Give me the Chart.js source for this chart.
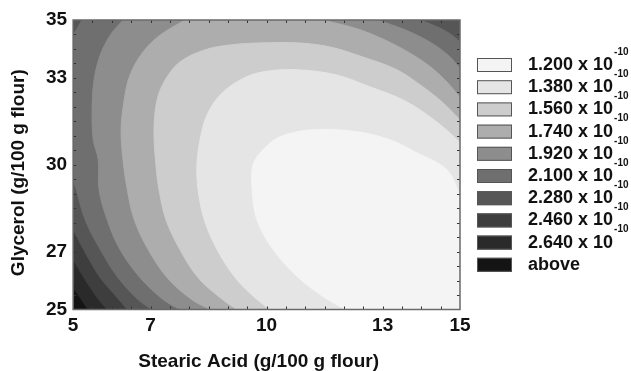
<!DOCTYPE html>
<html>
<head>
<meta charset="utf-8">
<script src="https://cdn.jsdelivr.net/npm/chart.js@4.4.1/dist/chart.umd.min.js"></script>
<style>
  html, body { margin: 0; padding: 0; background: #fff; }
</style>
</head>
<body>
<canvas id="contourChart" width="631" height="371"></canvas>
<script>
// axis ticks
const xTicks = [5, 7, 10, 13, 15];
const yTicks = [25, 27, 30, 33, 35];

// legend levels (x 10^-10), lightest first
const levelLabels = ['1.200 x 10', '1.380 x 10', '1.560 x 10', '1.740 x 10', '1.920 x 10',
    '2.100 x 10', '2.280 x 10', '2.460 x 10', '2.640 x 10', 'above'];
const levelExponents = ['-10', '-10', '-10', '-10', '-10', '-10', '-10', '-10', '-10', ''];
const levelColors = ['#f4f4f4', '#e5e5e5', '#cdcdcd', '#adadad', '#8d8d8d',
    '#6f6f6f', '#565656', '#3e3e3e', '#2a2a2a', '#141414'];

// regions below each contour level as [stearic, glycerol];
// the first/last few points of each run just past the plot edges and get clipped
const region1200 = [[15.25, 28.40], [15.00, 28.97], [14.66, 29.83], [13.89, 30.41], [13.19, 30.86], [12.34, 31.14],
    [11.20, 31.21], [10.35, 30.97], [9.91, 30.52], [9.65, 30.00], [9.63, 29.14], [9.75, 28.10], [10.17, 27.07],
    [10.79, 26.14], [11.46, 25.45], [12.03, 25.00], [12.40, 24.70], [15.60, 24.40]];
const region1380 = [[15.25, 30.40], [15.00, 30.76], [14.74, 31.10], [14.22, 31.66], [13.53, 32.24], [12.67, 32.69],
    [11.82, 33.10], [10.79, 33.28], [9.91, 33.21], [9.32, 32.93], [8.80, 32.41], [8.46, 31.72], [8.28, 30.86],
    [8.20, 30.00], [8.23, 29.14], [8.39, 28.10], [8.72, 27.07], [9.19, 26.10], [9.70, 25.41], [10.09, 25.00],
    [10.40, 24.70], [15.60, 24.40]];
const region1560 = [[15.25, 31.20], [15.00, 31.55], [14.56, 32.14], [14.04, 32.69], [13.37, 33.28], [12.49, 33.72],
    [11.64, 34.07], [10.79, 34.21], [9.91, 34.21], [9.06, 34.14], [8.41, 33.97], [7.76, 33.55], [7.38, 32.93],
    [7.17, 32.24], [7.09, 31.21], [7.14, 30.00], [7.22, 29.14], [7.40, 28.10], [7.76, 27.07], [8.23, 26.10],
    [8.80, 25.41], [9.24, 25.00], [9.60, 24.70], [15.60, 24.40]];
const region1740 = [[8.20, 35.25], [7.89, 35.00], [7.25, 34.48], [6.81, 33.90], [6.47, 33.10], [6.32, 32.24],
    [6.24, 31.21], [6.29, 30.17], [6.40, 29.14], [6.58, 28.10], [6.94, 27.07], [7.43, 26.10], [8.07, 25.34],
    [8.54, 25.00], [8.90, 24.70], [15.60, 24.40], [15.25, 31.95], [15.00, 32.34], [14.61, 32.93], [14.10, 33.52],
    [13.32, 34.14], [12.42, 34.66], [11.46, 35.00], [11.00, 35.17]];
const region1920 = [[6.45, 35.26], [6.29, 35.00], [5.96, 34.48], [5.70, 33.79], [5.54, 32.93], [5.49, 31.90],
    [5.52, 30.86], [5.65, 30.17], [5.67, 29.14], [5.88, 28.10], [6.21, 27.07], [6.73, 26.10], [7.33, 25.34],
    [7.76, 25.00], [8.10, 24.70], [15.60, 24.40], [15.20, 33.05], [15.00, 33.34], [14.69, 33.79], [14.22, 34.24],
    [13.58, 34.66], [12.86, 35.00], [12.40, 35.20]];
const region2100 = [[5.35, 35.27], [5.23, 35.00], [5.00, 34.48], [4.85, 34.10], [4.70, 31.90], [4.85, 29.80],
    [5.00, 29.48], [5.31, 28.10], [5.70, 27.07], [6.16, 26.10], [6.68, 25.34], [7.04, 25.00], [7.40, 24.70],
    [15.60, 24.40], [15.25, 33.95], [15.00, 34.24], [14.79, 34.48], [14.48, 34.72], [13.97, 35.00], [13.50, 35.20]];
const region2280 = [[4.60, 35.40], [4.85, 28.15], [5.00, 27.76], [5.34, 26.90], [5.70, 26.10], [6.14, 25.41],
    [6.40, 25.00], [6.65, 24.60], [15.60, 24.40], [15.60, 35.40]];
const region2460 = [[4.60, 35.40], [4.86, 27.03], [5.00, 26.72], [5.28, 26.10], [5.62, 25.41], [5.88, 25.00],
    [6.10, 24.65], [15.60, 24.40], [15.60, 35.40]];
const region2640 = [[4.60, 35.40], [4.87, 26.00], [5.00, 25.76], [5.18, 25.41], [5.39, 25.00], [5.55, 24.70],
    [15.60, 24.40], [15.60, 35.40]];
const regionAbove = [[4.5, 35.5], [4.5, 24.5], [15.5, 24.5], [15.5, 35.5]];

const regions = [region1200, region1380, region1560, region1740, region1920,
    region2100, region2280, region2460, region2640, regionAbove];

const FONT = '"Liberation Sans", Arial, sans-serif';

// frame and small edge ticks around the plot
const framePlugin = {
    id: 'frame',
    afterDatasetsDraw(chart) {
        const {ctx, chartArea: a, scales: {x, y}} = chart;
        ctx.save();
        ctx.strokeStyle = '#333';
        ctx.lineWidth = 1;
        for (let v = 5.5; v < 15; v += 0.5) {
            const px = Math.round(x.getPixelForValue(v)) + 0.5;
            ctx.beginPath();
            ctx.moveTo(px, a.top); ctx.lineTo(px, a.top + 3);
            ctx.moveTo(px, a.bottom); ctx.lineTo(px, a.bottom - 3);
            ctx.stroke();
        }
        for (let v = 25.5; v < 35; v += 0.5) {
            const py = Math.round(y.getPixelForValue(v)) + 0.5;
            ctx.beginPath();
            ctx.moveTo(a.left, py); ctx.lineTo(a.left + 3, py);
            ctx.moveTo(a.right, py); ctx.lineTo(a.right - 3, py);
            ctx.stroke();
        }
        ctx.strokeStyle = '#6a6a6a';
        ctx.lineWidth = 1.5;
        ctx.strokeRect(a.left, a.top, a.width, a.height);
        ctx.restore();
    }
};

// level legend with raised exponents
const legendPlugin = {
    id: 'levelLegend',
    afterDraw(chart) {
        const {ctx, chartArea: a} = chart;
        const boxX = a.right + 17;
        const textX = boxX + 51;
        ctx.save();
        levelLabels.forEach((label, i) => {
            const cy = a.top + 45 + i * 22.2;
            ctx.fillStyle = levelColors[i];
            ctx.fillRect(boxX, cy - 7, 35, 14);
            ctx.strokeStyle = '#555';
            ctx.lineWidth = 1;
            ctx.strokeRect(boxX + 0.5, cy - 6.5, 34, 13);
            ctx.fillStyle = '#111';
            ctx.textBaseline = 'middle';
            ctx.font = 'bold 18px ' + FONT;
            ctx.fillText(label, textX, cy);
            if (levelExponents[i]) {
                const w = ctx.measureText(label).width;
                ctx.font = 'bold 10px ' + FONT;
                ctx.fillText(levelExponents[i], textX + w + 1, cy - 13);
            }
        });
        ctx.restore();
    }
};

new Chart(document.getElementById('contourChart'), {
    type: 'scatter',
    data: {
        datasets: regions.map((pts, i) => ({
            label: levelLabels[i],
            data: pts,
            showLine: true,
            fill: 'shape',
            backgroundColor: levelColors[i],
            borderColor: levelColors[i],
            borderWidth: 1,
            pointRadius: 0,
            tension: i === regions.length - 1 ? 0 : 0.35
        }))
    },
    options: {
        responsive: false,
        animation: false,
        events: [],
        layout: {
            padding: {left: 9, right: 171, top: 20, bottom: 0}
        },
        plugins: {
            legend: {display: false},
            tooltip: {enabled: false}
        },
        scales: {
            x: {
                type: 'linear',
                min: 5,
                max: 15,
                afterBuildTicks: scale => { scale.ticks = xTicks.map(v => ({value: v})); },
                grid: {display: false, drawTicks: false},
                border: {display: false},
                ticks: {
                    padding: 7,
                    maxRotation: 0,
                    color: '#111',
                    font: {family: FONT, size: 19, weight: 'bold', lineHeight: 1}
                },
                title: {
                    display: true,
                    text: 'Stearic Acid (g/100 g flour)   ',
                    color: '#111',
                    padding: {top: 9.5, bottom: 0},
                    font: {family: FONT, size: 19, weight: 'bold', lineHeight: 1}
                }
            },
            y: {
                type: 'linear',
                min: 25,
                max: 35,
                afterBuildTicks: scale => { scale.ticks = yTicks.map(v => ({value: v})); },
                grid: {display: false, drawTicks: false},
                border: {display: false},
                ticks: {
                    padding: 6,
                    color: '#111',
                    font: {family: FONT, size: 19, weight: 'bold', lineHeight: 1}
                },
                title: {
                    display: true,
                    text: 'Glycerol (g/100 g flour)   ',
                    color: '#111',
                    padding: {top: 0, bottom: 12},
                    font: {family: FONT, size: 19, weight: 'bold', lineHeight: 1}
                }
            }
        }
    },
    plugins: [framePlugin, legendPlugin]
});
</script>
</body>
</html>
